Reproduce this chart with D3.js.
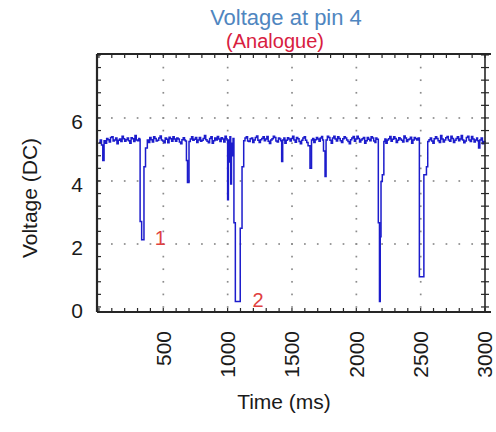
<!DOCTYPE html>
<html>
<head>
<meta charset="utf-8">
<script src="https://cdn.jsdelivr.net/npm/d3@7"></script>
<style>
  body { margin: 0; background: #fff; }
  svg { display: block; font-family: "Liberation Sans", Arial, sans-serif; }
</style>
</head>
<body>
<div id="chart"></div>
<script>
// trace: [time ms, volts]
const trace = [
  [0,5.22],[10,5.30],[20,5.14],[30,4.65],[40,5.28],[50,5.20],[60,5.35],[70,5.31],
  [80,5.24],[90,5.38],[100,5.40],[110,5.27],[120,5.30],[130,5.36],[140,5.18],
  [150,5.29],[160,5.33],[170,5.25],[180,5.42],[190,5.34],[200,5.26],[210,5.31],
  [220,5.36],[230,5.28],[240,5.20],[250,5.37],[260,5.34],[270,5.25],[280,5.44],
  [290,5.30],[300,5.28],[310,5.35],[315,5.32],
  [320,2.71],[332,2.13],[350,4.45],[362,5.05],
  [376,5.30],[385,5.22],[395,5.38],[405,5.31],[415,5.24],[425,5.40],[435,5.35],
  [445,5.27],[455,5.29],[465,5.36],[475,5.43],[485,5.30],[495,5.27],[505,5.21],
  [515,5.36],[525,5.32],[535,5.21],[545,5.39],[555,5.34],[565,5.26],[575,5.40],
  [585,5.33],[595,5.26],[605,5.36],[615,5.33],[625,5.24],[635,5.18],[645,5.31],
  [655,5.37],[665,5.30],[672,5.27],
  [680,4.65],[688,3.95],
  [700,5.25],[710,5.33],[720,5.40],[730,5.29],[740,5.32],[750,5.38],[760,5.22],
  [770,5.30],[780,5.38],[790,5.26],[800,5.29],[810,5.35],[820,5.44],[830,5.31],
  [840,5.26],[850,5.21],[860,5.35],[870,5.40],[880,5.20],[890,5.28],[900,5.36],
  [910,5.30],[920,5.41],[930,5.33],[940,5.25],[950,5.37],[960,5.33],[970,5.24],
  [980,5.42],[990,5.34],[995,5.30],
  [1000,3.40],[1006,5.30],[1012,4.60],[1018,5.40],[1024,3.90],[1030,5.20],
  [1036,4.80],[1042,5.35],[1049,2.67],[1060,0.17],[1098,2.50],[1112,4.45],
  [1125,5.28],[1135,5.36],[1145,5.40],[1155,5.27],[1165,5.25],[1175,5.34],
  [1185,5.36],[1195,5.22],[1205,5.30],[1215,5.38],[1225,5.43],[1235,5.29],
  [1245,5.22],[1255,5.31],[1265,5.35],[1275,5.40],[1285,5.28],[1295,5.33],
  [1305,5.41],[1315,5.26],[1325,5.19],[1335,5.30],[1345,5.34],[1355,5.42],
  [1365,5.38],[1375,5.27],[1385,5.24],[1395,5.36],[1405,5.33],[1413,5.28],
  [1420,4.62],[1428,5.30],
  [1437,5.36],[1445,5.20],[1455,5.29],[1465,5.37],[1475,5.33],[1485,5.27],
  [1495,5.35],[1505,5.42],[1515,5.30],[1525,5.23],[1535,5.38],[1545,5.34],
  [1555,5.25],[1565,5.18],[1575,5.29],[1585,5.36],[1595,5.40],[1605,5.29],
  [1615,5.22],[1625,5.12],
  [1640,4.40],[1652,5.30],
  [1661,5.35],[1670,5.22],[1680,5.31],[1690,5.38],[1700,5.33],[1710,5.26],
  [1720,5.36],[1730,5.41],[1738,5.30],
  [1745,4.95],[1757,4.14],[1765,5.30],
  [1775,5.42],[1785,5.38],[1795,5.29],[1805,5.20],[1815,5.36],[1825,5.42],
  [1835,5.33],[1845,5.27],[1855,5.40],[1865,5.35],[1875,5.28],[1885,5.22],
  [1895,5.34],[1905,5.40],[1915,5.36],[1925,5.30],[1935,5.25],[1945,5.18],
  [1955,5.31],[1965,5.36],[1975,5.41],[1985,5.26],[1995,5.33],[2005,5.42],
  [2015,5.35],[2025,5.24],[2035,5.30],[2045,5.34],[2055,5.38],[2065,5.20],
  [2075,5.28],[2085,5.38],[2095,5.32],[2105,5.28],[2115,5.40],[2125,5.36],
  [2135,5.27],[2145,5.22],[2152,5.36],[2160,5.32],
  [2171,2.67],[2180,0.17],[2186,2.23],[2192,3.98],[2202,4.20],[2214,5.25],
  [2222,5.33],[2230,5.20],[2240,5.30],[2250,5.34],[2260,5.41],[2270,5.26],
  [2280,5.32],[2290,5.40],[2300,5.35],[2310,5.22],[2320,5.29],[2330,5.37],
  [2340,5.33],[2350,5.29],[2360,5.24],[2370,5.43],[2380,5.36],[2390,5.25],
  [2400,5.31],[2410,5.33],[2420,5.39],[2430,5.20],[2440,5.30],[2450,5.38],
  [2460,5.34],[2470,5.30],[2480,5.36],
  [2490,0.96],[2525,4.20],[2545,4.45],
  [2555,5.25],[2565,5.31],[2575,5.36],[2585,5.27],[2595,5.20],[2605,5.34],
  [2615,5.40],[2625,5.35],[2635,5.28],[2645,5.22],[2655,5.44],[2665,5.33],
  [2675,5.24],[2685,5.30],[2695,5.37],[2705,5.41],[2715,5.30],[2725,5.26],
  [2735,5.42],[2745,5.35],[2755,5.22],[2765,5.29],[2775,5.35],[2785,5.40],
  [2795,5.28],[2805,5.33],[2815,5.44],[2825,5.30],[2835,5.21],[2845,5.27],
  [2855,5.38],[2865,5.42],[2875,5.30],[2885,5.25],[2895,5.41],[2905,5.33],
  [2915,5.24],[2925,5.30],[2935,5.36],[2942,5.28],[2950,5.05],[2960,5.30],
  [2970,5.36],[2980,5.18],[2990,5.25],[3000,5.22]
];

const xTicks = [500, 1000, 1500, 2000, 2500, 3000];
const yTicks = [0, 2, 4, 6];
const gridX = [500, 1000, 1500, 2000, 2500];
const gridY = [2, 4, 6];
const markers = [
  { label: "1", t: 340, v: 2.13 },
  { label: "2", t: 1100, v: 0.17 }
];

const width = 496, height = 432;
const plot = { left: 97, right: 485, top: 54, bottom: 312 };

const svg = d3.select("#chart").append("svg")
  .attr("width", width)
  .attr("height", height);

const x = d3.scaleLinear().domain([-15, 3000]).range([plot.left, plot.right]);
const y = d3.scaleLinear().domain([-0.16, 8.03]).range([plot.bottom, plot.top]);

const minorX = d3.range(0, 3001, 100);
const minorY = d3.range(0, 8.01, 0.4);

// dotted grid: dots at the minor steps along each major line
const dots = svg.append("g").attr("fill", "#8c8c8c");
gridX.forEach(function(t) {
  dots.selectAll(null).data(minorY).enter().append("rect")
    .attr("x", x(t) - 0.8).attr("y", function(d) { return y(d) - 0.8; })
    .attr("width", 1.7).attr("height", 1.7);
});
gridY.forEach(function(v) {
  dots.selectAll(null).data(minorX).enter().append("rect")
    .attr("x", function(d) { return x(d) - 0.8; }).attr("y", y(v) - 0.8)
    .attr("width", 1.7).attr("height", 1.7);
});

// the trace
const line = d3.line()
  .x(function(d) { return x(d[0]); })
  .y(function(d) { return y(d[1]); })
  .curve(d3.curveStepAfter);

svg.append("path")
  .datum(trace)
  .attr("fill", "none")
  .attr("stroke", "#1c1ccc")
  .attr("stroke-width", 1.5)
  .attr("d", line);

// frame and minor ticks
const axisCol = "#262626";
const frame = svg.append("g").attr("stroke", axisCol).attr("fill", "none");
frame.append("line").attr("x1", plot.left).attr("x2", 491).attr("y1", plot.top).attr("y2", plot.top).attr("stroke-width", 2.2);
frame.append("line").attr("x1", plot.left).attr("x2", 491).attr("y1", plot.bottom).attr("y2", plot.bottom).attr("stroke-width", 2.2);
frame.append("line").attr("x1", plot.left).attr("x2", plot.left).attr("y1", plot.top).attr("y2", plot.bottom).attr("stroke-width", 2.2);
frame.append("line").attr("x1", plot.right).attr("x2", plot.right).attr("y1", plot.top).attr("y2", plot.bottom).attr("stroke-width", 1.6);

const tk = svg.append("g").attr("stroke", axisCol).attr("stroke-width", 1.2);
tk.selectAll(".tb").data(minorX).enter().append("line")
  .attr("x1", function(d) { return x(d); }).attr("x2", function(d) { return x(d); })
  .attr("y1", plot.bottom).attr("y2", plot.bottom - 4);
tk.selectAll(".tt").data(minorX).enter().append("line")
  .attr("x1", function(d) { return x(d); }).attr("x2", function(d) { return x(d); })
  .attr("y1", plot.top).attr("y2", plot.top + 4);
tk.selectAll(".tl").data(minorY).enter().append("line")
  .attr("x1", plot.left).attr("x2", plot.left + 4)
  .attr("y1", function(d) { return y(d); }).attr("y2", function(d) { return y(d); });
tk.selectAll(".tr").data(minorY).enter().append("line")
  .attr("x1", plot.right - 4).attr("x2", plot.right + 4)
  .attr("y1", function(d) { return y(d); }).attr("y2", function(d) { return y(d); });

// tick labels
svg.append("g").selectAll("text").data(yTicks).enter().append("text")
  .attr("x", 83).attr("y", function(d) { return y(d) + 4; })
  .attr("dy", "0.35em")
  .attr("text-anchor", "end")
  .attr("font-size", 21).attr("fill", "#1a1a1a")
  .text(function(d) { return d; });

svg.append("g").selectAll("text").data(xTicks).enter().append("text")
  .attr("transform", function(d) { return "translate(" + x(d) + ",331) rotate(-90)"; })
  .attr("dy", "0.35em")
  .attr("text-anchor", "end")
  .attr("font-size", 21).attr("fill", "#1a1a1a")
  .text(function(d) { return d; });

// axis titles
svg.append("text")
  .attr("transform", "translate(30,198) rotate(-90)")
  .attr("dy", "0.35em")
  .attr("text-anchor", "middle")
  .attr("font-size", 21).attr("fill", "#1a1a1a")
  .text("Voltage (DC)");

svg.append("text")
  .attr("x", 284).attr("y", 409)
  .attr("text-anchor", "middle")
  .attr("font-size", 21).attr("fill", "#1a1a1a")
  .text("Time (ms)");

svg.append("text")
  .attr("x", 286).attr("y", 25)
  .attr("text-anchor", "middle")
  .attr("font-size", 22).attr("fill", "#4f86c0")
  .text("Voltage at pin 4");

svg.append("text")
  .attr("x", 275).attr("y", 48)
  .attr("text-anchor", "middle")
  .attr("font-size", 20).attr("fill", "#d8203f")
  .text("(Analogue)");

// event markers
svg.append("g").selectAll("text").data(markers).enter().append("text")
  .attr("x", function(d) { return x(d.t) + 12; })
  .attr("y", function(d) { return y(d.v) + 5; })
  .attr("font-size", 20).attr("fill", "#e0413f")
  .text(function(d) { return d.label; });
</script>
</body>
</html>
